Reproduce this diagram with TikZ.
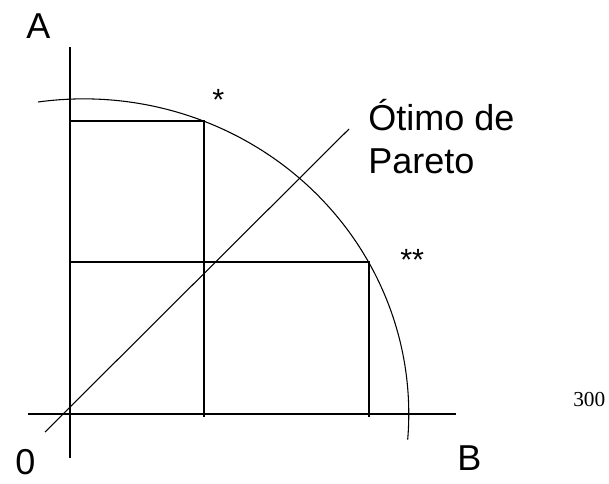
\documentclass[tikz,border=0pt]{standalone}
\usepackage{fontspec}
\setmainfont{Liberation Sans}
\newfontfamily\serifnum{Liberation Serif}

\begin{document}
\begin{tikzpicture}[x=0.75pt,y=0.75pt,yscale=-1,xscale=1]
	\tikzset{
		lbl/.style={anchor=base west,inner sep=0pt,font=\fontsize{27}{32}\selectfont},
		starlbl/.style={anchor=base west,inner sep=0pt,font=\fontsize{23}{28}\selectfont},
		thin line/.style={line width=0.8}
	}
	\useasboundingbox (0,0) rectangle (609,483);
	
	% Axes
	\coordinate (ytop) at (70,47);
	\coordinate (ybot) at (70,458);
	\coordinate (xleft) at (28,414);
	\coordinate (xright) at (456,414);
	\draw [thin line] (ytop) -- (ybot);
	\draw [thin line] (xleft) -- (xright);
	
	% Frontier
	\coordinate (arcstart) at (38,102);
	\draw [thin line] (arcstart) arc [start angle=-98.1, end angle=4.7, x radius=325, y radius=315];
	
	% Points on the frontier
	\coordinate (pone) at (204,121);
	\coordinate (ptwo) at (369,262);
	\coordinate (pone y) at (70,121);
	\coordinate (pone x) at (204,417);
	\coordinate (ptwo y) at (70,262);
	\coordinate (ptwo x) at (369,417);
	\draw [thin line] (pone y) -- (pone) -- (pone x);
	\draw [thin line] (ptwo y) -- (ptwo) -- (ptwo x);
	
	% Diagonal
	\coordinate (dstart) at (45,432);
	\coordinate (dend) at (349,129);
	\draw [thin line] (dstart) -- (dend);
	
	% Text Nodes
	\node [lbl] (labA) at (26,38) {A};
	\node [lbl] (labB) at (457,470) {B};
	\node [lbl] (lab0) at (15,474) {0};
	\node [starlbl] (starone) at (212,110) {*};
	\node [starlbl] (startwo) at (400,270) {**};
	\node [lbl,align=left,anchor=north west] (otimo) at (368,99) {Ótimo de\\Pareto};
	\node [anchor=base west,inner sep=0pt,font=\serifnum\fontsize{16}{19}\selectfont] (num) at (573,406) {300};
	
\end{tikzpicture}
\end{document}
